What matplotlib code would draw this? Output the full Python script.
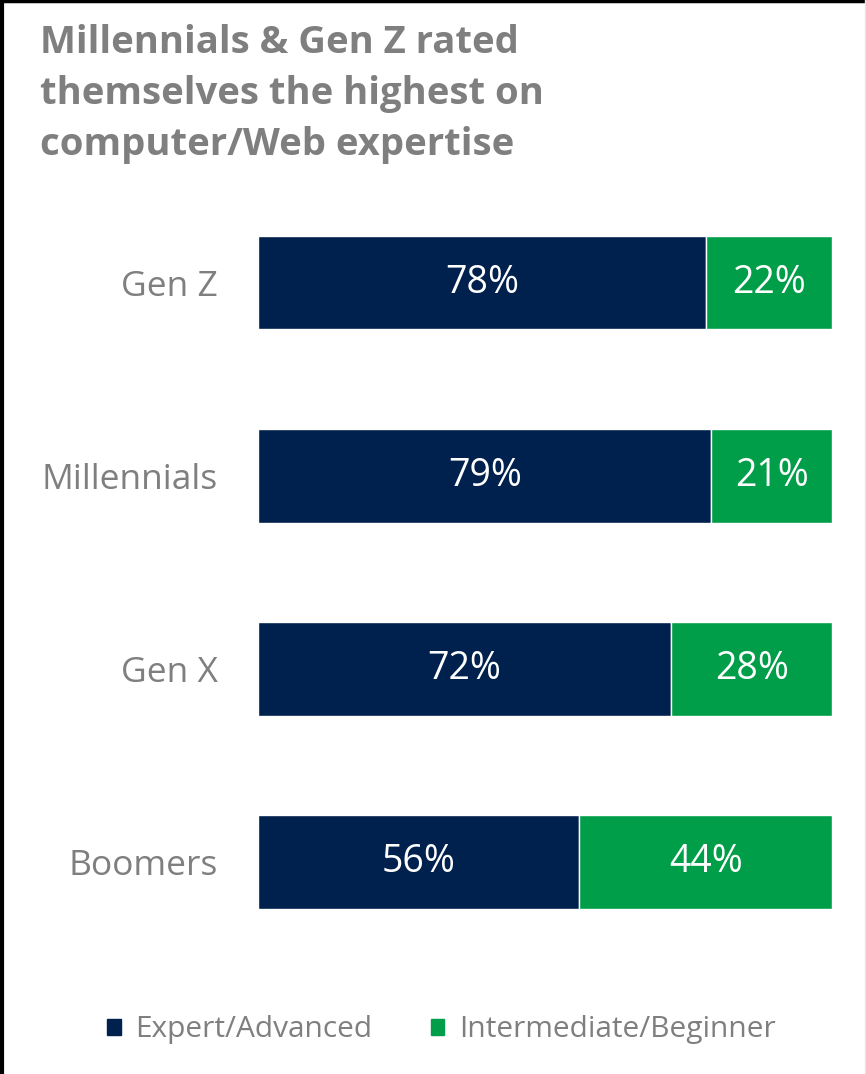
import matplotlib.pyplot as plt
from matplotlib.lines import Line2D
from matplotlib.patches import Patch

# Auto-évaluation des compétences informatiques / Web par génération
generations = ['Gen Z', 'Millennials', 'Gen X', 'Boomers']
expert = [78, 79, 72, 56]
intermediaire = [22, 21, 28, 44]

bleu = '#00204E'
vert = '#009E48'
gris = '#7F7F7F'

plt.rcParams['font.family'] = ['Open Sans', 'DejaVu Sans']

fig = plt.figure(figsize=(8.66, 10.74), dpi=100)
ax = fig.add_axes([0.2979, 0.1072, 0.6628, 0.7197])

y = list(range(len(generations)))
ax.barh(y, expert, height=0.485, color=bleu, edgecolor='white', linewidth=1)
ax.barh(y, intermediaire, left=expert, height=0.485, color=vert,
        edgecolor='white', linewidth=1)

for i in y:
    ax.text(expert[i] / 2, i, f'{expert[i]}%', ha='center', va='center',
            color='white', fontsize=27)
    ax.text(expert[i] + intermediaire[i] / 2, i, f'{intermediaire[i]}%',
            ha='center', va='center', color='white', fontsize=27)

ax.set_xlim(0, 100)
ax.set_ylim(3.5, -0.5)
ax.set_yticks(y)
ax.set_yticklabels(generations, fontsize=25.5, color=gris)
ax.tick_params(axis='y', length=0, pad=29)
ax.set_xticks([])
for s in ax.spines.values():
    s.set_visible(False)

fig.text(0.046, 0.978, 'Millennials & Gen Z rated\nthemselves the highest on\ncomputer/Web expertise',
         ha='left', va='top', fontsize=27.5, fontweight='bold', color=gris,
         linespacing=1.45)

handles = [Patch(color=bleu, label='Expert/Advanced'),
           Patch(color=vert, label='Intermediate/Beginner')]
fig.legend(handles=handles, loc='center', bbox_to_anchor=(0.51, 0.041), ncol=2,
           frameon=False, fontsize=21.5, labelcolor=gris, handlelength=0.45,
           handleheight=0.45, handletextpad=0.5, columnspacing=1.95)

# cadre
fig.add_artist(Line2D([0.002, 0.002], [0, 1], color='black', lw=3, transform=fig.transFigure))
fig.add_artist(Line2D([0, 1], [0.999, 0.999], color='black', lw=2.5, transform=fig.transFigure))
fig.add_artist(Line2D([0.999, 0.999], [0, 1], color='#E6E6E6', lw=1, transform=fig.transFigure))

plt.savefig('out.png', dpi=100)
